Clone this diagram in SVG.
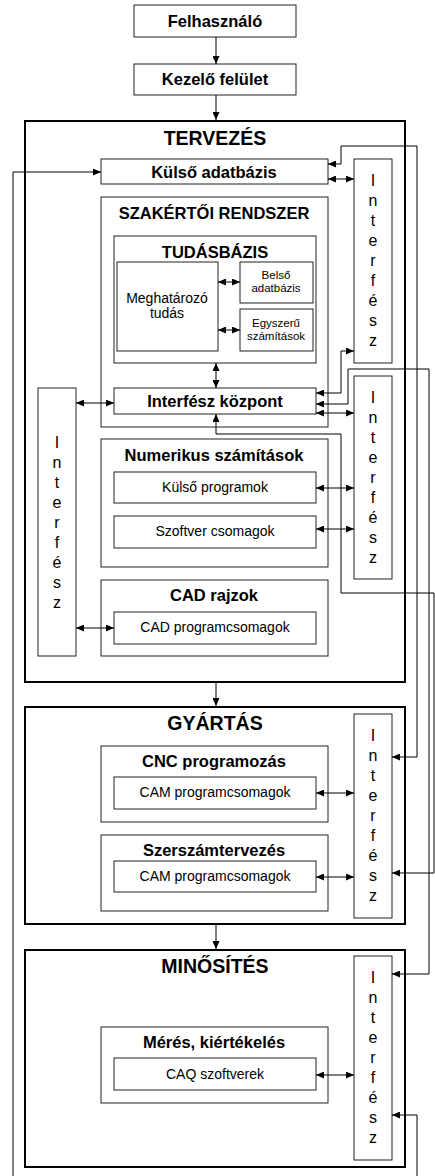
<svg xmlns="http://www.w3.org/2000/svg" width="435" height="1176" viewBox="0 0 435 1176">
<style>
text{font-family:"Liberation Sans",Arial,sans-serif;fill:#000;text-anchor:middle}
.sec{font-size:19.5px;font-weight:bold}
.b{font-size:16.5px;font-weight:bold}
.r{font-size:14px}
.s{font-size:11.5px}
.ifl{font-size:16px}
.box{fill:#fff;stroke:#222;stroke-width:1}
.secbox{fill:#fff;stroke:#000;stroke-width:2}
.cn{fill:none;stroke:#000;stroke-width:1}
.e{marker-end:url(#ah)}
.se{marker-start:url(#ah);marker-end:url(#ah)}
</style>
<defs>
<marker id="ah" viewBox="0 0 8 7" refX="8" refY="3.5" markerWidth="8" markerHeight="7" markerUnits="userSpaceOnUse" orient="auto-start-reverse"><path d="M0,0 L8,3.5 L0,7 z" fill="#000"/></marker>
</defs>
<rect width="435" height="1176" fill="#fff"/>

<g id="felhasznalo"><rect class="box" x="134" y="5" width="162" height="32"/><text class="b" x="215" y="27">Felhasználó</text></g>
<g id="kezelo"><rect class="box" x="134" y="64" width="162" height="31"/><text class="b" x="215" y="85">Kezelő felület</text></g>

<g id="tervezes"><rect class="secbox" x="25" y="121" width="380" height="561"/><text class="sec" x="215" y="145">TERVEZÉS</text></g>
<g id="kulso-adatbazis"><rect class="box" x="101" y="159" width="227" height="25"/><text class="b" x="214" y="178">Külső adatbázis</text></g>
<g id="szakerto"><rect class="box" x="101" y="197" width="227" height="230"/><text class="b" x="214" y="219">SZAKÉRTŐI RENDSZER</text></g>
<g id="tudasbazis"><rect class="box" x="114" y="236" width="202" height="127"/><text class="b" x="215" y="258">TUDÁSBÁZIS</text></g>
<g id="meghatarozo"><rect class="box" x="117" y="262" width="101" height="89"/><text class="r" x="167" y="303">Meghatározó</text><text class="r" x="167" y="318">tudás</text></g>
<g id="belso"><rect class="box" x="240" y="262" width="73" height="41"/><text class="s" x="276" y="279">Belső</text><text class="s" x="276" y="292">adatbázis</text></g>
<g id="egyszeru"><rect class="box" x="240" y="309" width="73" height="42"/><text class="s" x="276" y="327">Egyszerű</text><text class="s" x="276" y="340">számítások</text></g>
<g id="interfesz-kozpont"><rect class="box" x="114" y="388" width="202" height="26"/><text class="b" x="215" y="407">Interfész központ</text></g>
<g id="numerikus"><rect class="box" x="101" y="439" width="227" height="128"/><text class="b" x="214" y="461">Numerikus számítások</text></g>
<g id="kulso-programok"><rect class="box" x="114" y="472" width="202" height="31"/><text class="r" x="215" y="492">Külső programok</text></g>
<g id="szoftver"><rect class="box" x="114" y="516" width="202" height="32"/><text class="r" x="215" y="536">Szoftver csomagok</text></g>
<g id="cad"><rect class="box" x="101" y="580" width="227" height="76"/><text class="b" x="214" y="601">CAD rajzok</text></g>
<g id="cad-prog"><rect class="box" x="114" y="612" width="202" height="32"/><text class="r" x="215" y="632">CAD programcsomagok</text></g>

<g id="if1"><rect class="box" x="354" y="159" width="38" height="204"/><text class="ifl"><tspan x="373" y="186">I</tspan><tspan x="373" dy="20">n</tspan><tspan x="373" dy="20">t</tspan><tspan x="373" dy="20">e</tspan><tspan x="373" dy="20">r</tspan><tspan x="373" dy="20">f</tspan><tspan x="373" dy="20">é</tspan><tspan x="373" dy="20">s</tspan><tspan x="373" dy="20">z</tspan></text></g>
<g id="if2"><rect class="box" x="354" y="376" width="38" height="203"/><text class="ifl"><tspan x="373" y="403">I</tspan><tspan x="373" dy="20">n</tspan><tspan x="373" dy="20">t</tspan><tspan x="373" dy="20">e</tspan><tspan x="373" dy="20">r</tspan><tspan x="373" dy="20">f</tspan><tspan x="373" dy="20">é</tspan><tspan x="373" dy="20">s</tspan><tspan x="373" dy="20">z</tspan></text></g>
<g id="if-left"><rect class="box" x="38" y="388" width="38" height="268"/><text class="ifl"><tspan x="57" y="448">I</tspan><tspan x="57" dy="20">n</tspan><tspan x="57" dy="20">t</tspan><tspan x="57" dy="20">e</tspan><tspan x="57" dy="20">r</tspan><tspan x="57" dy="20">f</tspan><tspan x="57" dy="20">é</tspan><tspan x="57" dy="20">s</tspan><tspan x="57" dy="20">z</tspan></text></g>

<g id="gyartas"><rect class="secbox" x="25" y="707" width="380" height="217"/><text class="sec" x="215" y="730">GYÁRTÁS</text></g>
<g id="cnc"><rect class="box" x="101" y="746" width="227" height="76"/><text class="b" x="214" y="767">CNC programozás</text></g>
<g id="cam1"><rect class="box" x="114" y="777" width="202" height="32"/><text class="r" x="215" y="797">CAM programcsomagok</text></g>
<g id="szerszam"><rect class="box" x="101" y="835" width="227" height="76"/><text class="b" x="214" y="856">Szerszámtervezés</text></g>
<g id="cam2"><rect class="box" x="114" y="861" width="202" height="31"/><text class="r" x="215" y="881">CAM programcsomagok</text></g>
<g id="if3"><rect class="box" x="354" y="714" width="38" height="204"/><text class="ifl"><tspan x="373" y="741">I</tspan><tspan x="373" dy="20">n</tspan><tspan x="373" dy="20">t</tspan><tspan x="373" dy="20">e</tspan><tspan x="373" dy="20">r</tspan><tspan x="373" dy="20">f</tspan><tspan x="373" dy="20">é</tspan><tspan x="373" dy="20">s</tspan><tspan x="373" dy="20">z</tspan></text></g>

<g id="minosites"><rect class="secbox" x="25" y="950" width="380" height="217"/><text class="sec" x="215" y="973">MINŐSÍTÉS</text></g>
<g id="meres"><rect class="box" x="101" y="1027" width="227" height="76"/><text class="b" x="214" y="1048">Mérés, kiértékelés</text></g>
<g id="caq"><rect class="box" x="114" y="1058" width="202" height="32"/><text class="r" x="215" y="1079">CAQ szoftverek</text></g>
<g id="if4"><rect class="box" x="354" y="956" width="38" height="204"/><text class="ifl"><tspan x="373" y="983">I</tspan><tspan x="373" dy="20">n</tspan><tspan x="373" dy="20">t</tspan><tspan x="373" dy="20">e</tspan><tspan x="373" dy="20">r</tspan><tspan x="373" dy="20">f</tspan><tspan x="373" dy="20">é</tspan><tspan x="373" dy="20">s</tspan><tspan x="373" dy="20">z</tspan></text></g>

<g id="connectors">
<path class="cn e" d="M216,37 V64"/>
<path class="cn e" d="M216,95 V120"/>
<path class="cn e" d="M216,683 V706"/>
<path class="cn e" d="M216,925 V949"/>
<path class="cn se" d="M328,179 H354"/>
<path class="cn se" d="M218,282 H240"/>
<path class="cn se" d="M218,330 H240"/>
<path class="cn se" d="M216,363 V388"/>
<path class="cn se" d="M76,403 H114"/>
<path class="cn se" d="M316,413 H354"/>
<path class="cn se" d="M316,488 H354"/>
<path class="cn se" d="M316,529 H354"/>
<path class="cn se" d="M76,628 H114"/>
<path class="cn se" d="M316,793 H354"/>
<path class="cn se" d="M316,877 H354"/>
<path class="cn se" d="M316,1075 H354"/>
<path class="cn se" d="M316,393 H341 V351 H354"/>
<path class="cn se" d="M316,404 H348 V369 H429 V974 H392"/>
<path class="cn se" d="M328,164 H341 V146 H417 V757 H392"/>
<path class="cn se" d="M216,414 V434 H341 V593 H434 V873 H392"/>
<path class="cn e" d="M13,1176 V172 H101"/>
<path class="cn e" d="M417,1176 V1115 H392"/>
</g>
</svg>
